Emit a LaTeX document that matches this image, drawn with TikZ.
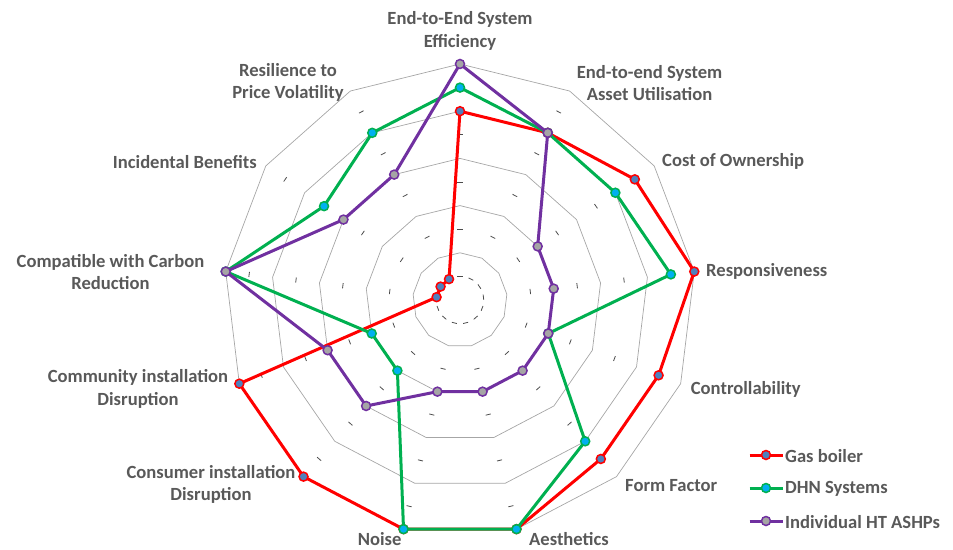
\documentclass[tikz,border=0pt]{standalone}
\usepackage{fontspec}
\setmainfont{Carlito}
\usepackage{tikz}
\usetikzlibrary{calc}
\definecolor{gbred}{HTML}{FF0000}
\definecolor{dhngreen}{HTML}{00B050}
\definecolor{hppurple}{HTML}{7030A0}
\definecolor{gbfill}{HTML}{4F81BD}
\definecolor{dhnfill}{HTML}{00B0F0}
\definecolor{hpfill}{HTML}{A5A5A5}
\definecolor{labelgray}{HTML}{595959}
\definecolor{gridgray}{HTML}{A6A6A6}
% one series: name, line colour, marker fill, values
\newcommand{\radarseries}[4]{%
  \foreach \v [count=\k from 0] in {#4}
    \coordinate (#1-\k) at ({90-\k*360/13}:\v*23.6);
  \draw[series,draw=#2] (#1-0) \foreach \k in {1,...,12}{-- (#1-\k)} -- cycle;
  \foreach \k in {0,...,12}
    \node[marker={#2}{#3}] (#1-dot\k) at (#1-\k) {};
}

\begin{document}
\begin{tikzpicture}[x=1pt,y=1pt,
  axislabel/.style={font=\fontsize{18.6}{22.7}\selectfont\bfseries,text=labelgray,inner sep=0pt,align=center,yshift=-1pt},
  gridline/.style={draw=gridgray,line width=0.7pt},
  tickmark/.style={draw=black!70,line width=0.8pt},
  series/.style={line width=3pt,line join=round},
  marker/.style 2 args={circle,draw=#1,fill=#2,line width=1.5pt,minimum size=9pt,inner sep=0pt}]
\useasboundingbox (-460,-249) rectangle (493,300);
\coordinate (c) at (0,0);
\def\du{23.6}
%%% grid polygons
\foreach \lev in {2,4,...,10}
  \draw[gridline] (90:\lev*\du) \foreach \k in {1,...,12}{-- ({90-\k*360/13}:\lev*\du)} -- cycle;
%%% tick marks between the polygons
\foreach \k in {0,...,12}
  \foreach \lev in {1,3,...,9}
    \draw[tickmark,rotate={90-\k*360/13}] (\lev*\du,-2.6) -- (\lev*\du,2.6);
%%% series
\radarseries{gb}{gbred}{gbfill}{8,8,9,10,9,9,10,10,10,10,1,1,1}
\radarseries{dhn}{dhngreen}{dhnfill}{9,8,8,9,4,8,10,10,4,4,10,7,8}
\radarseries{hp}{hppurple}{hpfill}{10,8,4,4,4,4,4,4,6,6,10,6,6}
%%% axis labels
\node[axislabel] (l-eff) at (0,270) {End-to-End System\\Efficiency};
\node[axislabel] (l-asset) at (189.5,218) {End-to-end System\\Asset Utilisation};
\node[axislabel,anchor=west] (l-cost) at (202,140) {Cost of Ownership};
\node[axislabel,anchor=west] (l-resp) at (246,30) {Responsiveness};
\node[axislabel,anchor=west] (l-ctrl) at (230.7,-88) {Controllability};
\node[axislabel,anchor=west] (l-form) at (165,-185) {Form Factor};
\node[axislabel,anchor=west] (l-aes) at (69,-238) {Aesthetics};
\node[axislabel,anchor=east] (l-noise) at (-58.3,-238) {Noise};
\node[axislabel] (l-cons) at (-249,-183.5) {Consumer installation\\Disruption};
\node[axislabel] (l-comm) at (-322,-88) {Community installation\\Disruption};
\node[axislabel] (l-carb) at (-349.5,29) {Compatible with Carbon\\Reduction};
\node[axislabel,anchor=east] (l-inc) at (-203,139.3) {Incidental Benefits};
\node[axislabel] (l-res) at (-172,218.5) {Resilience to\\Price Volatility};
%%% legend
\foreach \name/\col/\fil/\txt [count=\i from 0] in {gb/gbred/gbfill/Gas boiler,dhn/dhngreen/dhnfill/DHN Systems,hp/hppurple/hpfill/Individual HT ASHPs}{
  \coordinate (key-\name-a) at (289.5,-155-33*\i);
  \coordinate (key-\name-b) at (322.5,-155-33*\i);
  \draw[series,draw=\col] (key-\name-a) -- (key-\name-b);
  \node[marker={\col}{\fil}] (key-\name-dot) at ($(key-\name-a)!0.5!(key-\name-b)$) {};
  \node[axislabel,anchor=west] (key-\name) at (325,-155-33*\i) {\txt};
}
\end{tikzpicture}
\end{document}
